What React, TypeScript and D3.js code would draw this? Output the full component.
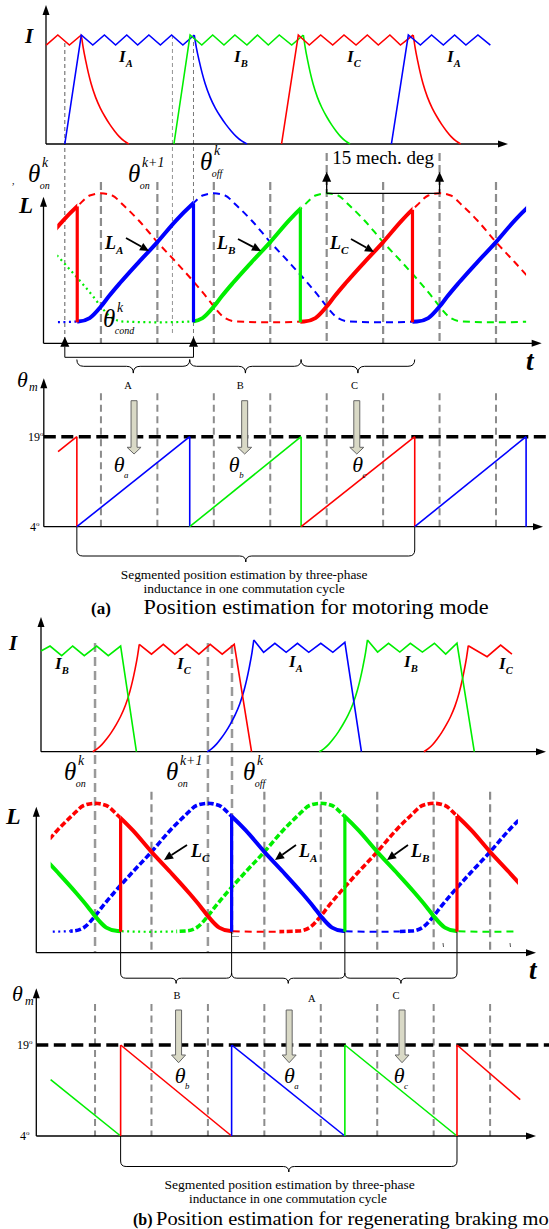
import React from 'react';
import * as d3 from 'd3';

type Phase = 'A' | 'B' | 'C';
type Pt = [number, number];

const PHASE_COLOR: Record<Phase, string> = { A: '#0000ff', B: '#00ee00', C: '#ff0000' };
const SERIF = '"Liberation Serif", "Times New Roman", Times, serif';

// Rotor-angle grid (mech. deg)
const GRID_T = [7.5, 15, 22.5, 30, 37.5, 45, 52.5, 60];

// Per-unit phase inductance against offset from the aligned position (deg)
const PROFILE_OFFSET = [-22.5, -18, -16.5, -15, -14, -12.5, -10, -7.5, -5, -3, -1.5, 0, 1.5, 3, 5, 7.5, 10, 12.5, 14, 15, 16.5, 18, 22.5];
const PROFILE_L = [0.14, 0.145, 0.168, 0.245, 0.31, 0.4, 0.54, 0.675, 0.82, 0.92, 0.985, 1, 0.985, 0.92, 0.82, 0.675, 0.54, 0.4, 0.31, 0.245, 0.168, 0.145, 0.14];

// Aligned positions of each phase
const ALIGNED_A = [-22.5, 22.5, 67.5];
const ALIGNED_B = [-7.5, 37.5, 82.5];
const ALIGNED_C = [-37.5, 7.5, 52.5];

// ---------- (a) motoring ----------
// chopped phase currents [deg, p.u.]
const MOT_I_C1: Pt[] = [[0.23, 0.908], [1.77, 1], [3.31, 0.908], [4.89, 1]];
const MOT_I_A1: Pt[] = [[2.7, 0], [4.89, 1], [6.42, 0.908], [7.96, 1], [9.45, 0.908], [10.93, 1], [12.38, 0.908], [13.87, 1], [15.4, 0.908], [16.89, 1], [18.39, 0.908], [19.9, 1]];
const MOT_I_B1: Pt[] = [[17.2, 0], [19.35, 1], [20.9, 0.908], [22.35, 1], [23.85, 0.908], [25.3, 1], [26.9, 0.908], [28.3, 1], [29.74, 0.908], [31.2, 1], [32.85, 0.908], [34.4, 1]];
const MOT_I_C2: Pt[] = [[31.5, 0], [33.73, 1], [35.19, 0.908], [36.7, 1], [38.3, 0.908], [39.8, 1], [41.4, 0.908], [42.9, 1], [44.36, 0.908], [45.9, 1], [47.3, 0.908], [49.0, 1]];
const MOT_I_A2: Pt[] = [[46.1, 0], [48.35, 1], [49.95, 0.908], [51.44, 1], [53.0, 0.908], [54.5, 1], [56.0, 0.908], [57.6, 1], [59.25, 0.908]];
// demagnetising tails after turn-off
const MOT_TAIL_PHASE: Phase[] = ['C', 'A', 'B', 'C'];
const MOT_TAIL_FROM = [4.89, 19.9, 34.4, 49.0];
const MOT_TAIL_TO = [11.2, 26.9, 40.6, 55.3];
const DECAY_SHAPE: Pt[] = [[0, 1], [0.04, 0.885], [0.095, 0.76], [0.15, 0.65], [0.206, 0.555], [0.3, 0.43], [0.4, 0.33], [0.5, 0.25], [0.6, 0.18], [0.7, 0.12], [0.8, 0.068], [0.9, 0.028], [1, 0]];

// inductance trace styles per phase: [from, to] in deg
const MOT_SOLID: Record<Phase, Pt[]> = { A: [[4.35, 19.8], [48.9, 64]], B: [[19.8, 34.0]], C: [[1.7, 4.35], [34.0, 48.9]] };
const MOT_DASH: Record<Phase, Pt[]> = { A: [[19.8, 48.9]], B: [[34.0, 64]], C: [[4.35, 34.0], [48.9, 64]] };
const MOT_DOTS: Record<Phase, Pt[]> = { A: [[1.7, 4.35]], B: [[1.7, 19.8]], C: [] };
const MOT_DROP_PHASE: Phase[] = ['C', 'A', 'B', 'C'];
const MOT_DROP_T = [4.35, 19.8, 34.0, 48.9];
const MOT_ON_K = 2.7;
const MOT_ON_K1 = 17.0;
const MOT_OFF_K = 19.8;
const MOT_SPAN = [37.5, 52.5];

// estimated angle ramps
const MOT_RAMP_PHASE: Phase[] = ['C', 'A', 'B', 'C', 'A'];
const MOT_RAMP_T0 = [1.8, 4.3, 19.3, 34.1, 49.2];
const MOT_RAMP_T1 = [4.3, 19.3, 34.1, 49.2, 64.0];
const MOT_RAMP_V0 = [16.5, 4, 4, 4, 4];
const MOT_RAMP_V1 = [19, 19, 19, 19, 19];
const MOT_SEG_NAME = ['A', 'B', 'C'];
const MOT_SEG_LABEL_T = [11.1, 26.0, 41.2];
const MOT_ARROW_T = [11.9, 26.6, 41.5];
const MOT_THETA_SUB = ['a', 'b', 'c'];
const MOT_THETA_T = [9.2, 24.5, 40.9];

// ---------- (b) regenerating braking ----------
const BRK_I_B1: Pt[] = [[0.32, 0.95], [1.52, 0.997], [3.07, 0.906], [4.53, 0.997], [6.07, 0.906], [7.72, 0.997], [9.26, 0.906], [10.9, 0.997], [13.0, 0]];
const BRK_I_C1: Pt[] = [[13.38, 1.013], [15.0, 0.92], [16.57, 1.013], [18.1, 0.92], [19.7, 1.013], [21.3, 0.92], [22.8, 1.013], [24.4, 0.92], [26.0, 1.013], [28.3, 0]];
const BRK_I_A1: Pt[] = [[28.6, 1.054], [29.9, 0.938], [31.4, 1.023], [32.9, 0.938], [34.4, 1.023], [35.9, 0.938], [37.5, 1.023], [39.1, 0.938], [40.7, 1.032], [42.9, 0]];
const BRK_I_B2: Pt[] = [[43.7, 1.054], [45.05, 0.94], [46.5, 1.023], [48.0, 0.94], [49.4, 1.023], [51.0, 0.94], [52.6, 1.023], [54.1, 0.92], [55.6, 1.023], [57.9, 0]];
const BRK_I_C2: Pt[] = [[57.1, 1.0], [59.6, 0.896], [61.4, 1.006], [62.9, 0.92]];
// current build-up before each chopping interval
const BRK_RISE_PHASE: Phase[] = ['C', 'A', 'B', 'C'];
const BRK_RISE_FROM = [7.2, 22.4, 37.3, 51.2];
const BRK_RISE_TO = [13.38, 28.6, 43.7, 57.1];
const BRK_RISE_PEAK = [1.013, 1.054, 1.054, 1.0];
const GROWTH_SHAPE: Pt[] = [[0, 0], [0.1, 0.028], [0.2, 0.068], [0.3, 0.12], [0.4, 0.18], [0.5, 0.25], [0.6, 0.33], [0.7, 0.43], [0.794, 0.555], [0.85, 0.65], [0.905, 0.76], [0.96, 0.885], [1, 1]];

const BRK_SOLID: Record<Phase, Pt[]> = { A: [[25.65, 40.7]], B: [[1.6, 10.9], [40.7, 55.6]], C: [[10.9, 25.65], [55.6, 63.7]] };
const BRK_BEAD: Record<Phase, Pt[]> = { A: [[4.2, 25.65], [48, 63.7]], B: [[18.3, 40.7]], C: [[1.6, 10.9], [32, 55.6]] };
const BRK_DASH: Record<Phase, Pt[]> = { A: [[40.7, 48]], B: [[55.6, 63.7]], C: [[25.65, 32]] };
const BRK_DOTS: Record<Phase, Pt[]> = { A: [[1.6, 4.2]], B: [[10.9, 18.3]], C: [] };
const BRK_RISE_LINE_PHASE: Phase[] = ['C', 'A', 'B', 'C'];
const BRK_RISE_LINE_T = [10.9, 25.65, 40.7, 55.6];
const BRK_ON_K = 7.5;
const BRK_ON_K1 = 22.5;
const BRK_OFF_K = 25.7;

const BRK_RAMP_PHASE: Phase[] = ['B', 'C', 'A', 'B', 'C'];
const BRK_RAMP_T0 = [1.6, 10.9, 25.65, 40.7, 55.6];
const BRK_RAMP_T1 = [10.9, 25.65, 40.7, 55.6, 64.0];
const BRK_RAMP_V0 = [13.3, 19, 19, 19, 19];
const BRK_RAMP_V1 = [4, 4, 4, 4, 10];
const BRK_SEG_NAME = ['B', 'A', 'C'];
const BRK_SEG_LABEL_T = [18.4, 36.3, 47.5];
const BRK_ARROW_T = [18.6, 33.3, 48.3];
const BRK_THETA_SUB = ['b', 'a', 'c'];
const BRK_THETA_T = [18.1, 32.6, 47.2];

const ALIGNED: Record<Phase, number[]> = { A: ALIGNED_A, B: ALIGNED_B, C: ALIGNED_C };
const L_MIN = d3.min(PROFILE_L) as number;
const profileAt = d3.scaleLinear().domain(PROFILE_OFFSET).range(PROFILE_L).clamp(true);

function profilePoints(ph: Phase): Pt[] {
  const m = new Map<number, number>();
  ALIGNED[ph].forEach(p => PROFILE_OFFSET.forEach((o, i) => m.set(+(p + o).toFixed(3), PROFILE_L[i])));
  return [...m.entries()].sort((a, b) => a[0] - b[0]) as Pt[];
}
function inductanceAt(ph: Phase, t: number) {
  const p = ALIGNED[ph].reduce((a, b) => (Math.abs(t - b) < Math.abs(t - a) ? b : a));
  return profileAt(t - p);
}

const STYLE: Record<string, { w: number; dash?: string }> = {
  solid: { w: 4 },
  dash: { w: 2, dash: '7,5' },
  dots: { w: 2.2, dash: '2,3.5' },
  bead: { w: 3.6, dash: '6,2.5' },
};

function bracePath(x0: number, x1: number, y0: number, h: number) {
  const m = (x0 + x1) / 2;
  const q = Math.min(h, (x1 - x0) / 4);
  return `M${x0},${y0} Q${x0},${y0 + h} ${x0 + q},${y0 + h} L${m - q},${y0 + h} Q${m},${y0 + h} ${m},${y0 + 2 * h} Q${m},${y0 + h} ${m + q},${y0 + h} L${x1 - q},${y0 + h} Q${x1},${y0 + h} ${x1},${y0}`;
}

function Axes({ x0, y0, yTop, xEnd }: { x0: number; y0: number; yTop: number; xEnd: number }) {
  return (
    <g>
      <line x1={x0} y1={y0} x2={x0} y2={yTop + 8} stroke="#000" strokeWidth={1.3} />
      <path d={`M${x0},${yTop} L${x0 - 3.5},${yTop + 10} L${x0 + 3.5},${yTop + 10}Z`} fill="#000" />
      <line x1={x0} y1={y0} x2={xEnd - 8} y2={y0} stroke="#000" strokeWidth={1.3} />
      <path d={`M${xEnd},${y0} L${xEnd - 10},${y0 - 3.5} L${xEnd - 10},${y0 + 3.5}Z`} fill="#000" />
    </g>
  );
}

function Theta({ x, y, sup, sub, size = 25 }: { x: number; y: number; sup?: string; sub?: string; size?: number }) {
  const w = size * 0.52;
  return (
    <g fontFamily={SERIF} fontStyle="italic">
      <text x={x} y={y} fontSize={size}>θ</text>
      {sup && <text x={x + w + 1} y={y - size * 0.62} fontSize={size * 0.55}>{sup}</text>}
      {sub && <text x={x + w * 0.9} y={y + size * 0.27} fontSize={size * 0.4}>{sub}</text>}
    </g>
  );
}

function Sub({ x, y, main, sub, size }: { x: number; y: number; main: string; sub: string; size: number }) {
  return (
    <text x={x} y={y} fontFamily={SERIF} fontStyle="italic" fontWeight="bold" fontSize={size}>
      {main}
      <tspan dy={size * 0.28} fontSize={size * 0.62}>{sub}</tspan>
    </text>
  );
}

function PointerArrow({ x1, y1, x2, y2 }: { x1: number; y1: number; x2: number; y2: number }) {
  const a = Math.atan2(y2 - y1, x2 - x1);
  const L = 9, W = 4.2;
  const bx = x2 - L * Math.cos(a), by = y2 - L * Math.sin(a);
  const nx = -Math.sin(a) * W, ny = Math.cos(a) * W;
  return (
    <g>
      <line x1={x1} y1={y1} x2={bx} y2={by} stroke="#000" strokeWidth={1.8} />
      <path d={`M${x2},${y2} L${bx + nx},${by + ny} L${bx - nx},${by - ny}Z`} fill="#000" />
    </g>
  );
}

function GrayArrow({ x, yTop, yHead, yTip }: { x: number; yTop: number; yHead: number; yTip: number }) {
  return (
    <path
      d={`M${x - 3},${yTop} L${x + 3},${yTop} L${x + 3},${yHead} L${x + 7},${yHead} L${x},${yTip} L${x - 7},${yHead} L${x - 3},${yHead}Z`}
      fill="#d9d9c6"
      stroke="#666"
      strokeWidth={1}
    />
  );
}

function inductanceLayers(
  prefix: string,
  x: d3.ScaleLinear<number, number>,
  y: d3.ScaleLinear<number, number>,
  groups: [string, Record<Phase, Pt[]>][]
) {
  const defs: React.ReactNode[] = [];
  const paths: React.ReactNode[] = [];
  const phases: Phase[] = ['C', 'A', 'B'];
  const gen = d3.line<Pt>().x(p => x(p[0])).y(p => y(p[1])).curve(d3.curveMonotoneX);
  groups.forEach(([style, rec]) => {
    phases.forEach(ph => {
      const iv = rec[ph];
      if (!iv || !iv.length) return;
      const cid = `${prefix}-${ph}-${style}`;
      defs.push(
        <clipPath id={cid} key={cid}>
          {iv.map(([a, b], k) => (
            <rect key={k} x={x(a)} y={0} width={x(b) - x(a)} height={1229} />
          ))}
        </clipPath>
      );
      paths.push(
        <path
          key={cid}
          d={gen(profilePoints(ph)) || ''}
          clipPath={`url(#${cid})`}
          fill="none"
          stroke={PHASE_COLOR[ph]}
          strokeWidth={STYLE[style].w}
          strokeDasharray={STYLE[style].dash}
        />
      );
    });
  });
  return { defs, paths };
}

export default function App() {
  const xa = d3.scaleLinear().domain([0, 66]).range([44.5, 44.5 + 7.525 * 66]);
  const xb = d3.scaleLinear().domain([0, 66]).range([38.6, 38.6 + 7.525 * 66]);
  const yIa = d3.scaleLinear().domain([0, 1]).range([144, 35]);
  const yLa = d3.scaleLinear().domain([0, 1]).range([343.3, 193.3]);
  const yTa = d3.scaleLinear().domain([4, 19]).range([526.7, 436.7]);
  const yIb = d3.scaleLinear().domain([0, 1]).range([751.7, 645.7]);
  const yLb = d3.scaleLinear().domain([0, 1]).range([952.7, 803.3]);
  const yTb = d3.scaleLinear().domain([4, 19]).range([1136, 1045]);

  const lineA = d3.line<Pt>().x(d => xa(d[0])).y(d => yIa(d[1]));
  const curveA = d3.line<Pt>().x(d => xa(d[0])).y(d => yIa(d[1])).curve(d3.curveMonotoneX);
  const lineB = d3.line<Pt>().x(d => xb(d[0])).y(d => yIb(d[1]));
  const curveB = d3.line<Pt>().x(d => xb(d[0])).y(d => yIb(d[1])).curve(d3.curveMonotoneX);

  const motChops: [Phase, Pt[]][] = [['C', MOT_I_C1], ['A', MOT_I_A1], ['B', MOT_I_B1], ['C', MOT_I_C2], ['A', MOT_I_A2]];
  const brkChops: [Phase, Pt[]][] = [['B', BRK_I_B1], ['C', BRK_I_C1], ['A', BRK_I_A1], ['B', BRK_I_B2], ['C', BRK_I_C2]];

  const motL = inductanceLayers('ma', xa, yLa, [['dots', MOT_DOTS], ['dash', MOT_DASH], ['solid', MOT_SOLID]]);
  const brkL = inductanceLayers('br', xb, yLb, [['dots', BRK_DOTS], ['dash', BRK_DASH], ['bead', BRK_BEAD], ['solid', BRK_SOLID]]);

  const gray = '#8c8c8c';

  return (
    <svg width={549} height={1229} style={{ position: 'absolute', left: 0, top: 0, background: '#fff' }} fontFamily={SERIF}>
      <defs>
        {motL.defs}
        {brkL.defs}
      </defs>
      <rect x={0} y={0} width={549} height={1229} fill="#fff" />

      {/* ================= (a) motoring: phase currents ================= */}
      <line x1={xa(MOT_ON_K)} y1={43} x2={xa(MOT_ON_K)} y2={343.3} stroke="#333" strokeWidth={0.8} strokeDasharray="4,3" />
      <line x1={xa(MOT_ON_K1)} y1={35} x2={xa(MOT_ON_K1)} y2={335} stroke="#777" strokeWidth={0.8} strokeDasharray="4,3" />
      <line x1={xa(MOT_OFF_K)} y1={35} x2={xa(MOT_OFF_K)} y2={343.3} stroke="#555" strokeWidth={0.8} strokeDasharray="4,3" />
      <Axes x0={46} y0={144} yTop={5} xEnd={508} />
      <text x={25} y={43} fontSize={21} fontStyle="italic" fontWeight="bold">I</text>
      {MOT_TAIL_PHASE.map((ph, i) => (
        <path
          key={`mt${i}`}
          d={curveA(DECAY_SHAPE.map(([u, v]) => [MOT_TAIL_FROM[i] + u * (MOT_TAIL_TO[i] - MOT_TAIL_FROM[i]), v] as Pt)) || ''}
          fill="none"
          stroke={PHASE_COLOR[ph]}
          strokeWidth={1.6}
        />
      ))}
      {motChops.map(([ph, pts], i) => (
        <path key={`mc${i}`} d={lineA(pts) || ''} fill="none" stroke={PHASE_COLOR[ph]} strokeWidth={1.6} />
      ))}
      <Sub x={119} y={62} main="I" sub="A" size={17} />
      <Sub x={234} y={62} main="I" sub="B" size={17} />
      <Sub x={347} y={62} main="I" sub="C" size={17} />
      <Sub x={447} y={62} main="I" sub="A" size={17} />

      {/* ================= (a) motoring: inductance ================= */}
      {GRID_T.map(t => (
        <line
          key={`ga${t}`}
          x1={xa(t)}
          y1={t === MOT_SPAN[0] || t === MOT_SPAN[1] ? 153 : 182}
          x2={xa(t)}
          y2={343.3}
          stroke={gray}
          strokeWidth={2.2}
          strokeDasharray="8,4"
        />
      ))}
      <Axes x0={43.5} y0={343.3} yTop={196.7} xEnd={541.7} />
      <text x={12} y={184} fontSize={10}>,</text>
      <text x={19} y={213} fontSize={23} fontStyle="italic" fontWeight="bold">L</text>
      <text x={526} y={370} fontSize={27} fontStyle="italic" fontWeight="bold">t</text>
      {motL.paths}
      {MOT_DROP_T.map((t, i) => (
        <line
          key={`md${i}`}
          x1={xa(t)}
          x2={xa(t)}
          y1={yLa(L_MIN)}
          y2={yLa(inductanceAt(MOT_DROP_PHASE[i], t))}
          stroke={PHASE_COLOR[MOT_DROP_PHASE[i]]}
          strokeWidth={3.2}
        />
      ))}
      <Sub x={105} y={249} main="L" sub="A" size={18} />
      <PointerArrow x1={126} y1={238} x2={149} y2={251} />
      <Sub x={217} y={249} main="L" sub="B" size={18} />
      <PointerArrow x1={238} y1={239} x2={261} y2={251} />
      <Sub x={330} y={249} main="L" sub="C" size={18} />
      <PointerArrow x1={351} y1={239} x2={374} y2={252} />

      <Theta x={28} y={182} sup="k" sub="on" />
      <Theta x={128} y={182} sup="k+1" sub="on" />
      <Theta x={200} y={170} sup="k" sub="off" />
      <Theta x={103} y={327} sup="k" sub="cond" />

      {/* 15 mech. deg span */}
      {MOT_SPAN.map((t, i) => (
        <g key={`sp${i}`}>
          <line x1={xa(t)} y1={193.3} x2={xa(t)} y2={180} stroke="#000" strokeWidth={1.3} />
          <path d={`M${xa(t)},171.7 L${xa(t) - 4.5},181.7 L${xa(t) + 4.5},181.7Z`} fill="#000" />
        </g>
      ))}
      <line x1={xa(MOT_SPAN[0])} y1={193.3} x2={xa(MOT_SPAN[1])} y2={193.3} stroke="#000" strokeWidth={1.3} />
      <text x={xa((MOT_SPAN[0] + MOT_SPAN[1]) / 2)} y={164} fontSize={19} textAnchor="middle">15 mech. deg</text>

      {/* θon / θoff markers and commutation braces */}
      {[MOT_ON_K, MOT_OFF_K].map((t, i) => (
        <g key={`mk${i}`}>
          <path d={`M${xa(t)},336.7 L${xa(t) - 4.5},346.7 L${xa(t) + 4.5},346.7Z`} fill="#000" />
          <line x1={xa(t)} y1={346.7} x2={xa(t)} y2={357.3} stroke="#000" strokeWidth={1} />
        </g>
      ))}
      <line x1={xa(MOT_ON_K)} y1={357.3} x2={xa(MOT_OFF_K)} y2={357.3} stroke="#000" strokeWidth={1} />
      {MOT_SEG_NAME.map((n, i) => (
        <g key={`mb${i}`}>
          <path d={bracePath(xa(MOT_RAMP_T0[i + 1]), xa(MOT_RAMP_T1[i + 1]), 359.5, 6.8)} fill="none" stroke="#000" strokeWidth={1} />
          <text x={xa(MOT_SEG_LABEL_T[i])} y={389} fontSize={10.5} textAnchor="middle">{n}</text>
        </g>
      ))}

      {/* ================= (a) motoring: estimated angle ================= */}
      {GRID_T.map(t => (
        <line key={`gta${t}`} x1={xa(t)} y1={393.3} x2={xa(t)} y2={526.7} stroke={gray} strokeWidth={2} strokeDasharray="7,4.5" />
      ))}
      <line x1={43.8} y1={yTa(19)} x2={549} y2={yTa(19)} stroke="#000" strokeWidth={3.5} strokeDasharray="12,5.5" />
      <Axes x0={43.8} y0={yTa(4)} yTop={378.3} xEnd={543} />
      <text x={17} y={387} fontSize={22} fontStyle="italic">θ</text>
      <text x={29} y={391} fontSize={12} fontStyle="italic">m</text>
      <text x={28} y={441} fontSize={12}>19<tspan dy={-5} fontSize={7}>o</tspan></text>
      <text x={30} y={531} fontSize={12}>4<tspan dy={-5} fontSize={7}>o</tspan></text>
      {MOT_RAMP_PHASE.map((ph, i) => (
        <g key={`mr${i}`} stroke={PHASE_COLOR[ph]} strokeWidth={1.6}>
          <line x1={xa(MOT_RAMP_T0[i])} y1={yTa(MOT_RAMP_V0[i])} x2={xa(MOT_RAMP_T1[i])} y2={yTa(MOT_RAMP_V1[i])} />
          <line x1={xa(MOT_RAMP_T1[i])} y1={yTa(4)} x2={xa(MOT_RAMP_T1[i])} y2={yTa(19)} />
        </g>
      ))}
      {MOT_ARROW_T.map((t, i) => (
        <GrayArrow key={`ga${i}`} x={xa(t)} yTop={400.7} yHead={447.3} yTip={454} />
      ))}
      {MOT_THETA_T.map((t, i) => (
        <Theta key={`mth${i}`} x={xa(t)} y={472} sub={MOT_THETA_SUB[i]} size={22} />
      ))}
      <line x1={xa(MOT_RAMP_T0[1])} y1={yTa(4)} x2={xa(MOT_RAMP_T0[1])} y2={550} stroke="#000" strokeWidth={1} />
      <line x1={xa(MOT_RAMP_T1[3])} y1={yTa(4)} x2={xa(MOT_RAMP_T1[3])} y2={550} stroke="#000" strokeWidth={1} />
      <path d={bracePath(xa(MOT_RAMP_T0[1]), xa(MOT_RAMP_T1[3]), 550, 6)} fill="none" stroke="#000" strokeWidth={1} />
      <text x={120.8} y={579} fontSize={12.5} textLength={246.7} lengthAdjust="spacingAndGlyphs">Segmented position estimation by three-phase</text>
      <text x={143.5} y={593} fontSize={12.5} textLength={201.3} lengthAdjust="spacingAndGlyphs">inductance in one commutation cycle</text>
      <text x={91} y={614} fontSize={17} fontWeight="bold">(a)</text>
      <text x={143.6} y={614} fontSize={20.5} textLength={345} lengthAdjust="spacingAndGlyphs">Position estimation for motoring mode</text>

      {/* ================= (b) braking: phase currents ================= */}
      {[BRK_ON_K, BRK_ON_K1].map((t, i) => (
        <line key={`bm${i}`} x1={xb(t)} y1={643} x2={xb(t)} y2={952.7} stroke="#999" strokeWidth={2.5} strokeDasharray="9,5" />
      ))}
      <line x1={xb(BRK_OFF_K)} y1={645} x2={xb(BRK_OFF_K)} y2={936} stroke="#999" strokeWidth={2.5} strokeDasharray="9,5" />
      <line x1={xb(BRK_OFF_K)} y1={936.5} x2={xb(BRK_OFF_K) + 7} y2={936.5} stroke="#999" strokeWidth={1} />
      <Axes x0={41} y0={751.7} yTop={617} xEnd={546} />
      <text x={9} y={650} fontSize={21} fontStyle="italic" fontWeight="bold">I</text>
      {BRK_RISE_PHASE.map((ph, i) => (
        <path
          key={`br${i}`}
          d={curveB(GROWTH_SHAPE.map(([u, v]) => [BRK_RISE_FROM[i] + u * (BRK_RISE_TO[i] - BRK_RISE_FROM[i]), v * BRK_RISE_PEAK[i]] as Pt)) || ''}
          fill="none"
          stroke={PHASE_COLOR[ph]}
          strokeWidth={1.6}
        />
      ))}
      {brkChops.map(([ph, pts], i) => (
        <path key={`bc${i}`} d={lineB(pts) || ''} fill="none" stroke={PHASE_COLOR[ph]} strokeWidth={1.6} />
      ))}
      <Sub x={55} y={669} main="I" sub="B" size={17} />
      <Sub x={177} y={669} main="I" sub="C" size={17} />
      <Sub x={289} y={667} main="I" sub="A" size={17} />
      <Sub x={404} y={667} main="I" sub="B" size={17} />
      <Sub x={499} y={669} main="I" sub="C" size={17} />

      {/* ================= (b) braking: inductance ================= */}
      {GRID_T.filter(t => t !== BRK_ON_K && t !== BRK_ON_K1).map(t => (
        <line key={`gb${t}`} x1={xb(t)} y1={791.7} x2={xb(t)} y2={952.7} stroke={gray} strokeWidth={2.2} strokeDasharray="8,4.5" />
      ))}
      <Axes x0={36.3} y0={952.7} yTop={806.7} xEnd={536} />
      <text x={6} y={824} fontSize={24} fontStyle="italic" fontWeight="bold">L</text>
      <text x={529} y={979} fontSize={27} fontStyle="italic" fontWeight="bold">t</text>
      <line x1={443} y1={943} x2={443.5} y2={947} stroke="#555" strokeWidth={1} />
      <line x1={510} y1={943} x2={510.5} y2={947} stroke="#555" strokeWidth={1} />
      {brkL.paths}
      {BRK_RISE_LINE_T.map((t, i) => (
        <line
          key={`bd${i}`}
          x1={xb(t)}
          x2={xb(t)}
          y1={yLb(L_MIN)}
          y2={yLb(inductanceAt(BRK_RISE_LINE_PHASE[i], t))}
          stroke={PHASE_COLOR[BRK_RISE_LINE_PHASE[i]]}
          strokeWidth={3.2}
        />
      ))}
      <Sub x={191} y={857} main="L" sub="C" size={18} />
      <PointerArrow x1={187} y1={845} x2={164} y2={860} />
      <Sub x={299} y={857} main="L" sub="A" size={18} />
      <PointerArrow x1={296} y1={845} x2={275} y2={860} />
      <Sub x={411} y={857} main="L" sub="B" size={18} />
      <PointerArrow x1={408} y1={845} x2={387} y2={860} />

      <Theta x={64} y={780} sup="k" sub="on" />
      <Theta x={166} y={780} sup="k+1" sub="on" />
      <Theta x={243} y={780} sup="k" sub="off" />

      {BRK_RISE_LINE_T.map((t, i) => (
        <line key={`bl${i}`} x1={xb(t)} y1={yLb(L_MIN)} x2={xb(t)} y2={973} stroke="#000" strokeWidth={1} />
      ))}
      {BRK_SEG_NAME.map((n, i) => (
        <g key={`bb${i}`}>
          <path d={bracePath(xb(BRK_RISE_LINE_T[i]), xb(BRK_RISE_LINE_T[i + 1]), 973, 5.2)} fill="none" stroke="#000" strokeWidth={1} />
          <text x={xb(BRK_SEG_LABEL_T[i])} y={i === 1 ? 1002 : 999} fontSize={10.5} textAnchor="middle">{n}</text>
        </g>
      ))}

      {/* ================= (b) braking: estimated angle ================= */}
      {GRID_T.map(t => (
        <line key={`gtb${t}`} x1={xb(t)} y1={1004} x2={xb(t)} y2={1136} stroke={gray} strokeWidth={2} strokeDasharray="7,4.5" />
      ))}
      <line x1={36.3} y1={yTb(19)} x2={549} y2={yTb(19)} stroke="#000" strokeWidth={3.5} strokeDasharray="12,5.5" />
      <Axes x0={36.3} y0={yTb(4)} yTop={988.3} xEnd={536} />
      <text x={12} y={1001} fontSize={22} fontStyle="italic">θ</text>
      <text x={25} y={1005} fontSize={12} fontStyle="italic">m</text>
      <text x={17} y={1049} fontSize={12}>19<tspan dy={-5} fontSize={7}>o</tspan></text>
      <text x={20} y={1140} fontSize={12}>4<tspan dy={-5} fontSize={7}>o</tspan></text>
      {BRK_RAMP_PHASE.map((ph, i) => (
        <g key={`brr${i}`} stroke={PHASE_COLOR[ph]} strokeWidth={1.6}>
          <line x1={xb(BRK_RAMP_T0[i])} y1={yTb(BRK_RAMP_V0[i])} x2={xb(BRK_RAMP_T1[i])} y2={yTb(BRK_RAMP_V1[i])} />
          {i > 0 && <line x1={xb(BRK_RAMP_T0[i])} y1={yTb(4)} x2={xb(BRK_RAMP_T0[i])} y2={yTb(19)} />}
        </g>
      ))}
      {BRK_ARROW_T.map((t, i) => (
        <GrayArrow key={`gb${i}`} x={xb(t)} yTop={1010} yHead={1055} yTip={1062.7} />
      ))}
      {BRK_THETA_T.map((t, i) => (
        <Theta key={`bth${i}`} x={xb(t)} y={1083} sub={BRK_THETA_SUB[i]} size={22} />
      ))}
      <line x1={xb(BRK_RAMP_T0[1])} y1={yTb(4)} x2={xb(BRK_RAMP_T0[1])} y2={1161} stroke="#000" strokeWidth={1} />
      <line x1={xb(BRK_RAMP_T0[4])} y1={yTb(4)} x2={xb(BRK_RAMP_T0[4])} y2={1161} stroke="#000" strokeWidth={1} />
      <path d={bracePath(xb(BRK_RAMP_T0[1]), xb(BRK_RAMP_T0[4]), 1161, 5.5)} fill="none" stroke="#000" strokeWidth={1} />
      <text x={164.5} y={1189} fontSize={12.5} textLength={250.3} lengthAdjust="spacingAndGlyphs">Segmented position estimation by three-phase</text>
      <text x={189} y={1203} fontSize={12.5} textLength={197.8} lengthAdjust="spacingAndGlyphs">inductance in one commutation cycle</text>
      <text x={133} y={1225} fontSize={16} fontWeight="bold">(b)</text>
      <text x={156} y={1225} fontSize={19} textLength={412} lengthAdjust="spacingAndGlyphs">Position estimation for regenerating braking mode</text>
    </svg>
  );
}
